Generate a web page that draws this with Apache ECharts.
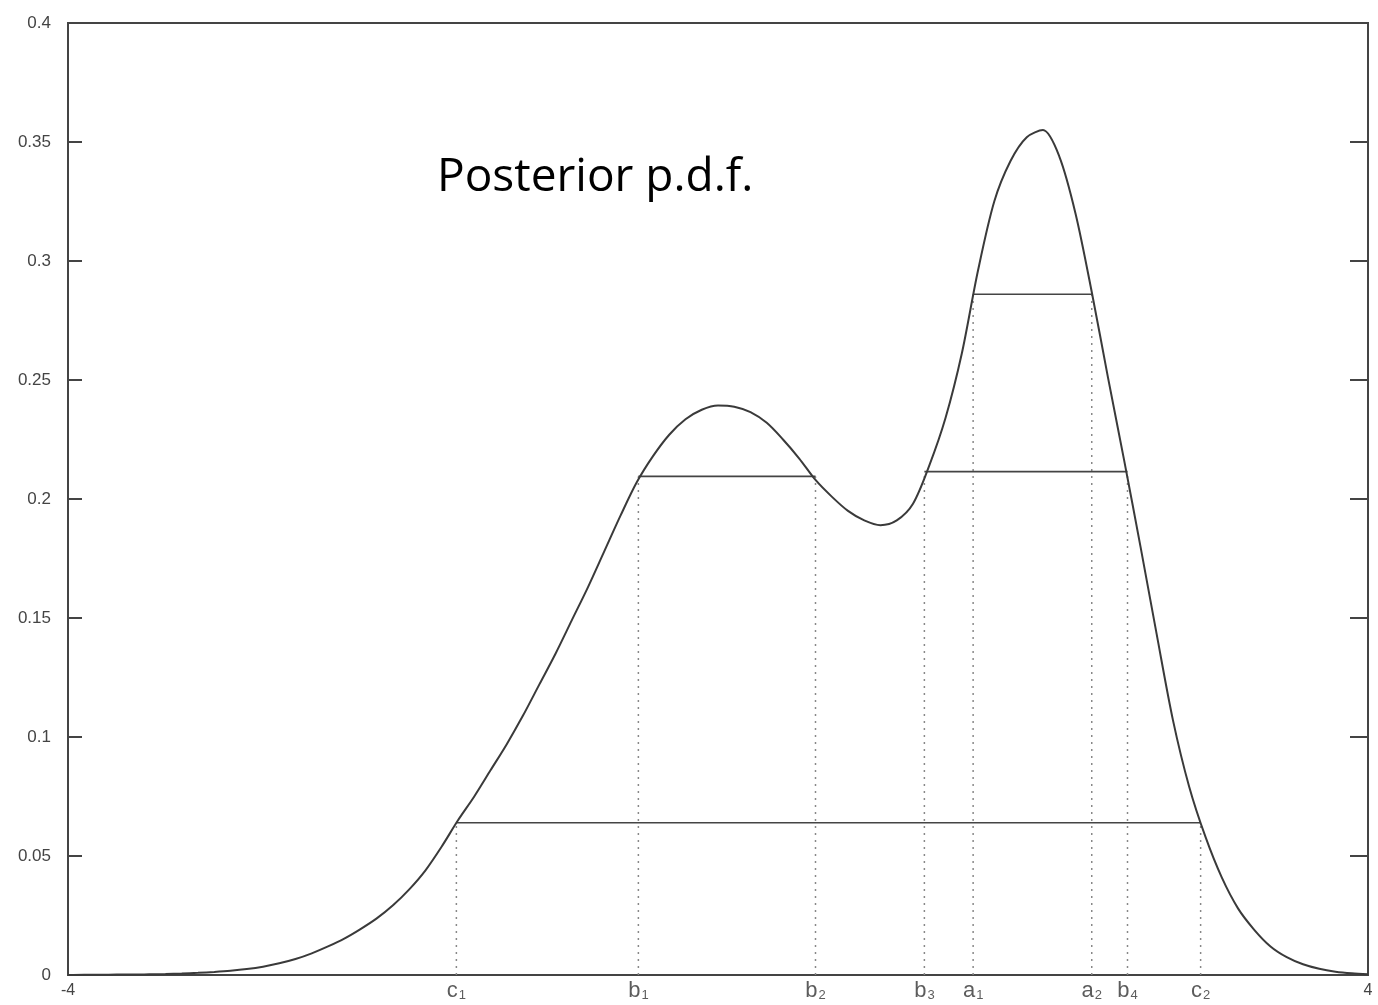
<!DOCTYPE html>
<html>
<head>
<meta charset="utf-8">
<script src="https://cdn.jsdelivr.net/npm/echarts@6/dist/echarts.min.js"></script>
<style>html,body{margin:0;padding:0;background:#fff}#c{width:1378px;height:1005px}</style>
</head>
<body>
<div id="c"></div>
<script>
// Posterior p.d.f. curve, read at x = -4.0, -3.9, ..., 4.0
const curveX = [-4.0, -3.9, -3.8, -3.7, -3.6, -3.5, -3.4, -3.3, -3.2, -3.1,
  -3.0, -2.9, -2.8, -2.7, -2.6, -2.5, -2.4, -2.3, -2.2, -2.1,
  -2.0, -1.9, -1.8, -1.7, -1.6, -1.5, -1.4, -1.3, -1.2, -1.1,
  -1.0, -0.9, -0.8, -0.7, -0.6, -0.5, -0.4, -0.3, -0.2, -0.1,
  0.0, 0.1, 0.2, 0.3, 0.4, 0.5, 0.6, 0.7, 0.8, 0.9,
  1.0, 1.1, 1.2, 1.3, 1.4, 1.5, 1.6, 1.7, 1.8, 1.9,
  2.0, 2.1, 2.2, 2.3, 2.4, 2.5, 2.6, 2.7, 2.8, 2.9,
  3.0, 3.1, 3.2, 3.3, 3.4, 3.5, 3.6, 3.7, 3.8, 3.9, 4.0];
const curveY = [0.0, 0.0001, 0.0001, 0.0002, 0.0002, 0.0003, 0.0004, 0.0006, 0.0009, 0.0013,
  0.0018, 0.0025, 0.0035, 0.0049, 0.0067, 0.0091, 0.0120, 0.0153, 0.0193, 0.0238,
  0.0293, 0.036, 0.044, 0.054, 0.065, 0.075, 0.086, 0.097, 0.109, 0.122,
  0.135, 0.149, 0.163, 0.178, 0.193, 0.207, 0.218, 0.227, 0.2335, 0.2375,
  0.2393, 0.2388, 0.2365, 0.232, 0.225, 0.217, 0.208, 0.201, 0.195, 0.191,
  0.189, 0.191, 0.198, 0.214, 0.234, 0.261, 0.296, 0.325, 0.342, 0.352,
  0.355, 0.344, 0.320, 0.287, 0.251, 0.216, 0.180, 0.143, 0.107, 0.079,
  0.058, 0.041, 0.028, 0.019, 0.012, 0.0075, 0.0045, 0.0026, 0.0014, 0.0007, 0.0003];

// HPD level segments
const levelNames = [['c_1', 'c_2'], ['b_1', 'b_2'], ['b_3', 'b_4'], ['a_1', 'a_2']];
const levelLeft  = [-1.61, -0.49, 1.27, 1.57];
const levelRight = [2.97, 0.60, 2.52, 2.30];
const levelValue = [0.064, 0.2095, 0.2115, 0.286];

// tick labels
const yTicks = ['0', '0.05', '0.1', '0.15', '0.2', '0.25', '0.3', '0.35', '0.4'];
const xTicks = ['-4', '4'];
const title = 'Posterior p.d.f.';

const curveData = curveX.map((x, i) => [x, curveY[i]]);
const series = [{
  type: 'line', data: curveData, smooth: 0.3, symbol: 'none',
  lineStyle: { color: '#3a3a3a', width: 2 }, z: 5
}];
const labelPts = [];
levelValue.forEach((lv, i) => {
  series.push({
    type: 'line', data: [[levelLeft[i], lv], [levelRight[i], lv]], symbol: 'none',
    lineStyle: { color: '#444', width: 1.6 }, z: 4
  });
  [levelLeft[i], levelRight[i]].forEach((x, j) => {
    series.push({
      type: 'line', data: [[x, 0], [x, lv]], symbol: 'none',
      lineStyle: { color: '#888', width: 1.5, type: [2, 5] }, z: 3
    });
    labelPts.push({ value: [x, 0], name: levelNames[i][j] });
  });
});
series.push({
  type: 'scatter', symbolSize: 0, data: labelPts, z: 6,
  label: {
    show: true, position: 'bottom', distance: 4,
    formatter: p => { const s = p.name.split('_'); return '{b|' + s[0] + '}{s|' + s[1] + '}'; },
    rich: {
      b: { fontSize: 22, color: '#333', fontFamily: 'Liberation Sans' },
      s: { fontSize: 13, color: '#333', fontFamily: 'Liberation Sans', padding: [10, 0, 0, 1] }
    }
  }
});

const chart = echarts.init(document.getElementById('c'));
chart.setOption({
  backgroundColor: '#ffffff',
  animation: false,
  grid: { left: 68, right: 10, top: 23, bottom: 30, show: true, borderColor: '#444', borderWidth: 2 },
  graphic: [{ type: 'text', left: 437, top: 155, style: { text: title, font: '46px "Open Sans"', fill: '#000' } }],
  xAxis: {
    type: 'value', min: -4, max: 4, interval: 8,
    axisLine: { show: true, onZero: false, lineStyle: { color: '#444', width: 2 } },
    axisTick: { show: false }, splitLine: { show: false },
    axisLabel: { margin: 8, fontSize: 16, color: '#444', fontFamily: 'Liberation Sans',
      formatter: v => (v === -4 ? xTicks[0] : v === 4 ? xTicks[1] : '') }
  },
  yAxis: [{
    type: 'value', min: 0, max: 0.4, interval: 0.05,
    axisLine: { show: true, onZero: false, lineStyle: { color: '#444', width: 2 } },
    axisTick: { show: true, inside: true, length: 14, lineStyle: { color: '#444', width: 2 } },
    splitLine: { show: false },
    axisLabel: { margin: 17, fontSize: 17, color: '#444', fontFamily: 'Liberation Sans',
      formatter: v => yTicks[Math.round(v / 0.05)] }
  }, {
    type: 'value', min: 0, max: 0.4, interval: 0.05, position: 'right',
    axisLine: { show: true, onZero: false, lineStyle: { color: '#444', width: 2 } },
    axisTick: { show: true, inside: true, length: 18, lineStyle: { color: '#444', width: 2 } },
    splitLine: { show: false }, axisLabel: { show: false }
  }],
  series: series
});
</script>
</body>
</html>
